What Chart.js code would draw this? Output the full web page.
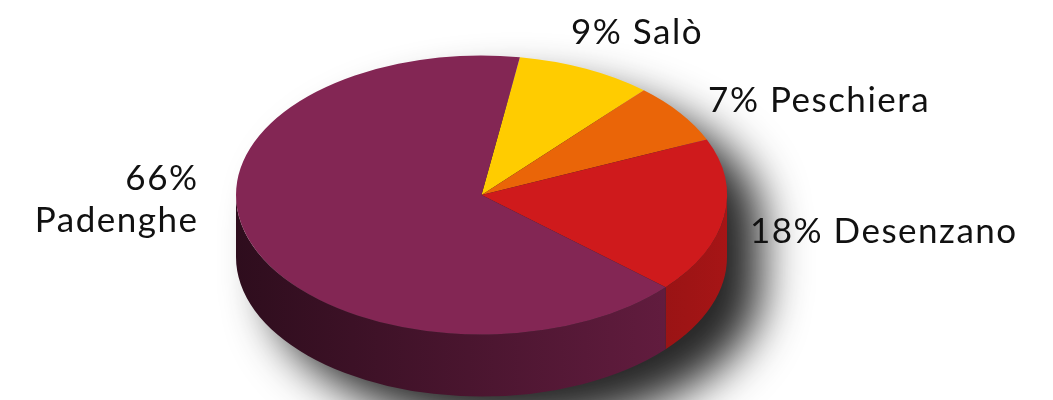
<!DOCTYPE html>
<html>
<head>
<meta charset="utf-8">
<script src="https://cdn.jsdelivr.net/npm/chart.js@4.4.1/dist/chart.umd.min.js"></script>
<style>
  html, body { margin: 0; padding: 0; background: #fff; }
  #wrap { width: 1053px; height: 400px; }
</style>
</head>
<body>
<div id="wrap"><canvas id="pie-chart"></canvas></div>
<script>
const towns = ["Salò", "Peschiera", "Desenzano", "Padenghe"];
const shares = [9, 7, 18, 66];
const sliceColors = ["#FFCC00", "#EA6508", "#CF1A1C", "#832654"];

// 3D look: the flat pie gets squashed to an ellipse and given a wall
const tilt = { rx: 245.5, ry: 139.5, cy: 195, depth: 62 };
// label position relative to the rim point in the middle of its slice
const labelNudge = [[-15, -36], [28, -12], [26, 15], [-52, -43]];

//darken a hex colour by a factor
function shade(hex, f) {
  const n = parseInt(hex.slice(1), 16);
  const r = Math.round(((n >> 16) & 255) * f);
  const g = Math.round(((n >> 8) & 255) * f);
  const b = Math.round((n & 255) * f);
  return `rgb(${r},${g},${b})`;
}

const pie3d = {
  id: "pie3d",
  beforeDatasetsDraw(chart) {
    const ctx = chart.ctx;
    const arcs = chart.getDatasetMeta(0).data;
    const cx = arcs[0].x, R = arcs[0].outerRadius;
    const { rx, ry, cy, depth } = tilt;

    //soft shadow (shape drawn off screen, only the shadow lands)
    ctx.save();
    ctx.shadowColor = "rgba(0,0,0,0.85)";
    ctx.shadowBlur = 45;
    ctx.shadowOffsetX = 3000 + 35;
    ctx.shadowOffsetY = 30;
    ctx.fillStyle = "#000";
    ctx.beginPath();
    ctx.ellipse(cx - 3000, cy, rx, ry, 0, Math.PI, 2 * Math.PI);
    ctx.ellipse(cx - 3000, cy + depth, rx, ry, 0, 0, Math.PI);
    ctx.closePath();
    ctx.fill();
    ctx.restore();

    //side wall, only the front half (0..PI) can be seen
    arcs.forEach((arc, i) => {
      [0, 2 * Math.PI].forEach(base => {
        const s = Math.max(arc.startAngle, base);
        const e = Math.min(arc.endAngle, base + Math.PI);
        if (e <= s) return;
        const g = ctx.createLinearGradient(cx - rx, 0, cx + rx, 0);
        g.addColorStop(0, shade(sliceColors[i], 0.35));
        g.addColorStop(1, shade(sliceColors[i], 0.8));
        ctx.fillStyle = g;
        ctx.beginPath();
        ctx.ellipse(cx, cy, rx, ry, 0, s, e);
        ctx.ellipse(cx, cy + depth, rx, ry, 0, e, s, true);
        ctx.closePath();
        ctx.fill();
      });
    });

    //top face: squash what chart.js draws next
    ctx.save();
    ctx.translate(cx, cy);
    ctx.scale(rx / R, ry / R);
    ctx.translate(-cx, -arcs[0].y);
  },
  afterDatasetsDraw(chart) {
    const ctx = chart.ctx;
    ctx.restore();

    const arcs = chart.getDatasetMeta(0).data;
    const cx = arcs[0].x;
    const { rx, ry, cy } = tilt;
    ctx.save();
    ctx.fillStyle = "#111";
    ctx.font = "35px Lato";
    ctx.letterSpacing = "1.5px";
    ctx.textBaseline = "middle";
    arcs.forEach((arc, i) => {
      const mid = (arc.startAngle + arc.endAngle) / 2;
      const x = cx + rx * Math.cos(mid) + labelNudge[i][0];
      const y = cy + ry * Math.sin(mid) + labelNudge[i][1];
      if (Math.cos(mid) >= 0) {
        ctx.textAlign = "left";
        ctx.fillText(shares[i] + "% " + towns[i], x, y);
      } else {
        ctx.textAlign = "right";
        ctx.fillText(shares[i] + "%", x, y - 21);
        ctx.fillText(towns[i], x, y + 21);
      }
    });
    ctx.restore();
  }
};

const pieChart = new Chart(document.getElementById("pie-chart"), {
  type: "pie",
  data: {
    labels: towns,
    datasets: [{
      data: shares,
      backgroundColor: sliceColors,
      borderWidth: 0,
      clip: false
    }]
  },
  options: {
    responsive: true,
    maintainAspectRatio: false,
    animation: false,
    rotation: 9,
    layout: { padding: { right: 90 } },
    plugins: {
      legend: { display: false },
      tooltip: { enabled: false }
    }
  },
  plugins: [pie3d]
});
</script>
</body>
</html>
